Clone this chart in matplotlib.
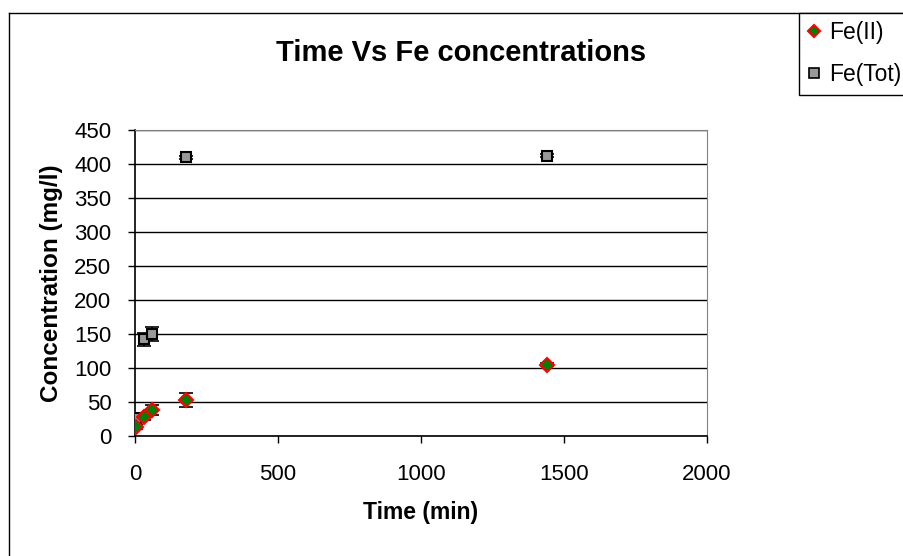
import matplotlib
matplotlib.use('Agg')
from matplotlib import pyplot as plt
from matplotlib.lines import Line2D

plt.rcParams['font.family'] = ['Liberation Sans', 'DejaVu Sans']

# data
time_min = [5, 30, 60, 180, 1440]
fe2 = [13, 28, 38, 53, 105]
fe2_err = [3, 4, 7, 10, 2]
fetot = [26, 142, 150, 410, 412]
fetot_err = [2, 10, 11, 2, 2]

fig = plt.figure(figsize=(9.04, 5.56), dpi=100)
ax = fig.add_axes([135 / 904, 1 - 436 / 556, (707 - 135) / 904, (436 - 130) / 556])

ax.errorbar(time_min, fetot, yerr=fetot_err, fmt='none', ecolor='k', elinewidth=1.2,
            capsize=5, capthick=1.2, zorder=3)
ax.errorbar(time_min, fe2, yerr=fe2_err, fmt='none', ecolor='k', elinewidth=1.2,
            capsize=5, capthick=1.2, zorder=3)
ax.plot(time_min, fetot, linestyle='none', marker='s', ms=7.5, mfc='#999999', mec='k',
        mew=1.5, zorder=4)
ax.plot(time_min, fe2, linestyle='none', marker='D', ms=7, mfc='#008000', mec='#ff0000',
        mew=1.5, zorder=5)

ax.set_xlim(0, 2000)
ax.set_ylim(0, 450)
ax.set_xticks([0, 500, 1000, 1500, 2000])
ax.set_yticks(range(0, 451, 50))
ax.yaxis.grid(True, color='k', lw=1)
ax.set_axisbelow(True)
ax.tick_params(labelsize=16, length=5, direction='out', width=1)
ax.tick_params(axis='y', pad=12)
ax.tick_params(axis='x', pad=15)
ax.spines['top'].set_color('#808080')
ax.spines['right'].set_color('#808080')
ax.spines['left'].set_linewidth(1.2)
ax.spines['bottom'].set_linewidth(1.2)

ax.set_xlabel('Time (min)', fontsize=16.5, fontweight='bold', labelpad=12)
ax.set_ylabel('Concentration (mg/l)', fontsize=17.5, fontweight='bold', labelpad=8)
fig.text(461 / 904, 1 - 53 / 556, 'Time Vs Fe concentrations', fontsize=21,
         fontweight='bold', ha='center', va='center')

# outer chart frame (top and left edges visible)
fig.add_artist(Line2D([9 / 904, 9 / 904], [0, 1 - 13 / 556], color='k', lw=1))
fig.add_artist(Line2D([9 / 904, 1], [1 - 13 / 556, 1 - 13 / 556], color='k', lw=1))

handles = [
    Line2D([], [], linestyle='none', marker='D', ms=6.5, mfc='#008000', mec='#ff0000', mew=1.5),
    Line2D([], [], linestyle='none', marker='s', ms=6.5, mfc='#999999', mec='k', mew=1.2),
]
leg = fig.legend(handles, ['Fe(II)', 'Fe(Tot)'], loc='upper left',
                 bbox_to_anchor=(799 / 904, 1 - 13 / 556), fontsize=16.5, frameon=True,
                 fancybox=False, edgecolor='k', framealpha=1, borderpad=0.35,
                 handlelength=0.6, handletextpad=0.35, labelspacing=0.85, borderaxespad=0)
leg.get_frame().set_linewidth(1)

plt.savefig('out.png', dpi=100)
